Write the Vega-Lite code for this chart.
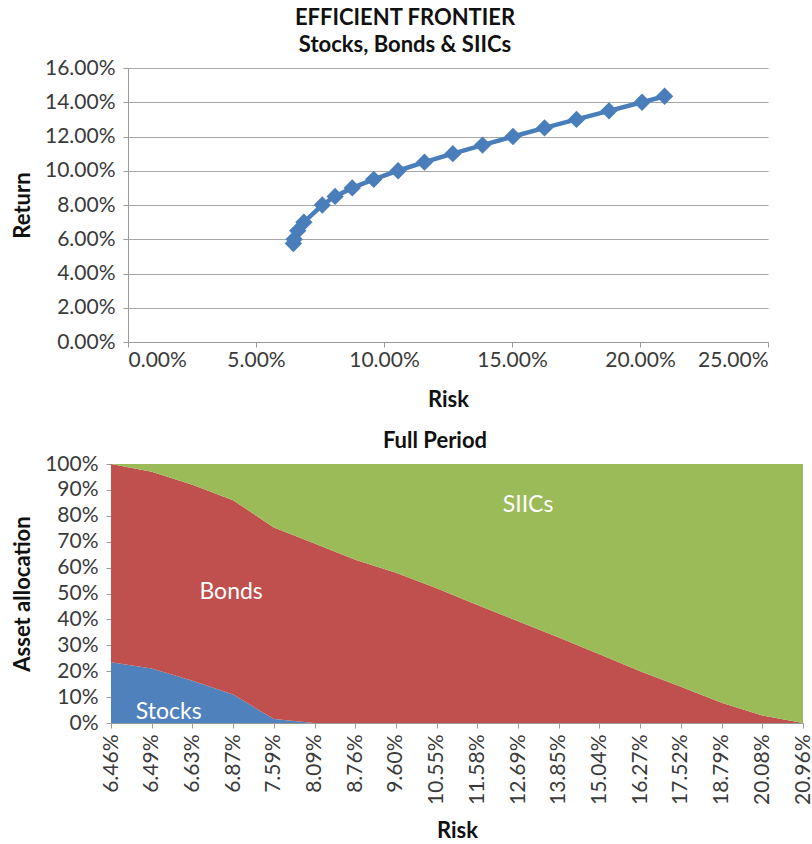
{
  "$schema": "https://vega.github.io/schema/vega-lite/v6.json",
  "background": "white",
  "padding": {"left": 11, "top": 7, "right": 0, "bottom": 0},
  "spacing": 20,
  "config": {
    "view": {"stroke": null},
    "font": "Lato",
    "axis": {
      "labelFont": "Lato",
      "labelFontSize": 21,
      "labelColor": "#3a3a3a",
      "labelOverlap": false,
      "titleFont": "Lato",
      "titleFontSize": 22,
      "titleFontWeight": "bold",
      "titleColor": "#111111",
      "domainColor": "#9a9a9a",
      "tickColor": "#9a9a9a",
      "gridColor": "#a8a8a8",
      "tickSize": 5
    },
    "title": {"font": "Lato", "fontSize": 22, "fontWeight": "bold", "color": "#111111"}
  },
  "datasets": {
    "frontier": [
      {"risk": 0.0646, "ret": 0.0575},
      {"risk": 0.0649, "ret": 0.0600},
      {"risk": 0.0663, "ret": 0.0650},
      {"risk": 0.0687, "ret": 0.0700},
      {"risk": 0.0759, "ret": 0.0800},
      {"risk": 0.0809, "ret": 0.0850},
      {"risk": 0.0876, "ret": 0.0900},
      {"risk": 0.0960, "ret": 0.0950},
      {"risk": 0.1055, "ret": 0.1000},
      {"risk": 0.1158, "ret": 0.1050},
      {"risk": 0.1269, "ret": 0.1100},
      {"risk": 0.1385, "ret": 0.1150},
      {"risk": 0.1504, "ret": 0.1200},
      {"risk": 0.1627, "ret": 0.1250},
      {"risk": 0.1752, "ret": 0.1300},
      {"risk": 0.1879, "ret": 0.1350},
      {"risk": 0.2008, "ret": 0.1400},
      {"risk": 0.2096, "ret": 0.1435}
    ],
    "alloc": [
      {"risk": "6.46%", "asset": "Stocks", "share": 0.235},
      {"risk": "6.46%", "asset": "Bonds", "share": 0.765},
      {"risk": "6.46%", "asset": "SIICs", "share": 0.0},
      {"risk": "6.49%", "asset": "Stocks", "share": 0.21},
      {"risk": "6.49%", "asset": "Bonds", "share": 0.76},
      {"risk": "6.49%", "asset": "SIICs", "share": 0.03},
      {"risk": "6.63%", "asset": "Stocks", "share": 0.163},
      {"risk": "6.63%", "asset": "Bonds", "share": 0.757},
      {"risk": "6.63%", "asset": "SIICs", "share": 0.08},
      {"risk": "6.87%", "asset": "Stocks", "share": 0.11},
      {"risk": "6.87%", "asset": "Bonds", "share": 0.75},
      {"risk": "6.87%", "asset": "SIICs", "share": 0.14},
      {"risk": "7.59%", "asset": "Stocks", "share": 0.015},
      {"risk": "7.59%", "asset": "Bonds", "share": 0.74},
      {"risk": "7.59%", "asset": "SIICs", "share": 0.245},
      {"risk": "8.09%", "asset": "Stocks", "share": 0.0},
      {"risk": "8.09%", "asset": "Bonds", "share": 0.693},
      {"risk": "8.09%", "asset": "SIICs", "share": 0.307},
      {"risk": "8.76%", "asset": "Stocks", "share": 0.0},
      {"risk": "8.76%", "asset": "Bonds", "share": 0.63},
      {"risk": "8.76%", "asset": "SIICs", "share": 0.37},
      {"risk": "9.60%", "asset": "Stocks", "share": 0.0},
      {"risk": "9.60%", "asset": "Bonds", "share": 0.58},
      {"risk": "9.60%", "asset": "SIICs", "share": 0.42},
      {"risk": "10.55%", "asset": "Stocks", "share": 0.0},
      {"risk": "10.55%", "asset": "Bonds", "share": 0.52},
      {"risk": "10.55%", "asset": "SIICs", "share": 0.48},
      {"risk": "11.58%", "asset": "Stocks", "share": 0.0},
      {"risk": "11.58%", "asset": "Bonds", "share": 0.456},
      {"risk": "11.58%", "asset": "SIICs", "share": 0.544},
      {"risk": "12.69%", "asset": "Stocks", "share": 0.0},
      {"risk": "12.69%", "asset": "Bonds", "share": 0.393},
      {"risk": "12.69%", "asset": "SIICs", "share": 0.607},
      {"risk": "13.85%", "asset": "Stocks", "share": 0.0},
      {"risk": "13.85%", "asset": "Bonds", "share": 0.33},
      {"risk": "13.85%", "asset": "SIICs", "share": 0.67},
      {"risk": "15.04%", "asset": "Stocks", "share": 0.0},
      {"risk": "15.04%", "asset": "Bonds", "share": 0.265},
      {"risk": "15.04%", "asset": "SIICs", "share": 0.735},
      {"risk": "16.27%", "asset": "Stocks", "share": 0.0},
      {"risk": "16.27%", "asset": "Bonds", "share": 0.20},
      {"risk": "16.27%", "asset": "SIICs", "share": 0.80},
      {"risk": "17.52%", "asset": "Stocks", "share": 0.0},
      {"risk": "17.52%", "asset": "Bonds", "share": 0.14},
      {"risk": "17.52%", "asset": "SIICs", "share": 0.86},
      {"risk": "18.79%", "asset": "Stocks", "share": 0.0},
      {"risk": "18.79%", "asset": "Bonds", "share": 0.078},
      {"risk": "18.79%", "asset": "SIICs", "share": 0.922},
      {"risk": "20.08%", "asset": "Stocks", "share": 0.0},
      {"risk": "20.08%", "asset": "Bonds", "share": 0.029},
      {"risk": "20.08%", "asset": "SIICs", "share": 0.971},
      {"risk": "20.96%", "asset": "Stocks", "share": 0.0},
      {"risk": "20.96%", "asset": "Bonds", "share": 0.0},
      {"risk": "20.96%", "asset": "SIICs", "share": 1.0}
    ],
    "labels": [
      {"risk": "6.49%", "asset": "Stocks", "share": 0.043},
      {"risk": "6.87%", "asset": "Bonds", "share": 0.504},
      {"risk": "12.69%", "asset": "SIICs", "share": 0.84}
    ]
  },
  "vconcat": [
    {
      "width": 640,
      "height": 274,
      "title": {"text": ["EFFICIENT FRONTIER", "Stocks, Bonds & SIICs"], "lineHeight": 27, "anchor": "middle", "frame": "group", "dx": -43, "offset": 0},
      "data": {"name": "frontier"},
      "encoding": {
        "x": {"field": "risk", "type": "quantitative", "title": "Risk",
              "scale": {"domain": [0, 0.25], "nice": false, "zero": true},
              "axis": {"format": ".2%", "values": [0, 0.05, 0.1, 0.15, 0.2, 0.25], "grid": false, "labelPadding": 2, "titlePadding": 19}},
        "y": {"field": "ret", "type": "quantitative", "title": "Return",
              "scale": {"domain": [0, 0.16], "nice": false},
              "axis": {"format": ".2%", "values": [0, 0.02, 0.04, 0.06, 0.08, 0.1, 0.12, 0.14, 0.16], "grid": true, "labelOverlap": false, "labelPadding": 8, "titlePadding": 10}}
      },
      "layer": [
        {"mark": {"type": "line", "color": "#4a7ebb", "strokeWidth": 4.5}},
        {"mark": {"type": "point", "shape": "diamond", "filled": true, "color": "#4a7ebb", "size": 300, "opacity": 1}}
      ]
    },
    {
      "width": 678,
      "height": 259,
      "title": {"text": "Full Period", "anchor": "middle", "frame": "group", "dx": -32, "offset": 0},
      "encoding": {
        "x": {"field": "risk", "type": "ordinal", "title": "Risk",
              "sort": ["6.46%","6.49%","6.63%","6.87%","7.59%","8.09%","8.76%","9.60%","10.55%","11.58%","12.69%","13.85%","15.04%","16.27%","17.52%","18.79%","20.08%","20.96%"],
              "scale": {"type": "point", "padding": 0, "range": [-17, 675]},
              "axis": {"labelAngle": -90, "labelPadding": 6, "titlePadding": 16, "grid": false}},
        "y": {"field": "share", "type": "quantitative", "title": "Asset allocation",
              "scale": {"domain": [0, 1], "nice": false},
              "axis": {"format": ".0%", "values": [0,0.1,0.2,0.3,0.4,0.5,0.6,0.7,0.8,0.9,1], "grid": false, "labelOverlap": false, "labelPadding": 8, "titlePadding": 10, "offset": 17}}
      },
      "layer": [
        {
          "data": {"name": "alloc"},
          "transform": [{"calculate": "indexof(['Stocks','Bonds','SIICs'], datum.asset)", "as": "stackRank"}],
          "mark": {"type": "area", "opacity": 1},
          "encoding": {
            "y": {"field": "share", "type": "quantitative", "stack": "zero", "title": "Asset allocation",
                  "scale": {"domain": [0, 1], "nice": false},
                  "axis": {"format": ".0%", "values": [0,0.1,0.2,0.3,0.4,0.5,0.6,0.7,0.8,0.9,1], "grid": false, "labelOverlap": false, "labelPadding": 8, "titlePadding": 10, "offset": 17}},
            "color": {"field": "asset", "type": "nominal", "legend": null,
                      "scale": {"domain": ["Stocks", "Bonds", "SIICs"], "range": ["#4f81bd", "#c0504d", "#9bbb59"]}},
            "order": {"field": "stackRank", "type": "quantitative"}
          }
        },
        {
          "data": {"name": "labels"},
          "transform": [{"filter": "datum.asset === 'Stocks'"}],
          "mark": {"type": "text", "color": "white", "fontSize": 23, "font": "Lato", "align": "center", "baseline": "middle", "dx": 17},
          "encoding": {"text": {"field": "asset"}}
        },
        {
          "data": {"name": "labels"},
          "transform": [{"filter": "datum.asset === 'Bonds'"}],
          "mark": {"type": "text", "color": "white", "fontSize": 23, "font": "Lato", "align": "center", "baseline": "middle", "dx": -2},
          "encoding": {"text": {"field": "asset"}}
        },
        {
          "data": {"name": "labels"},
          "transform": [{"filter": "datum.asset === 'SIICs'"}],
          "mark": {"type": "text", "color": "white", "fontSize": 23, "font": "Lato", "align": "center", "baseline": "middle", "dx": 10},
          "encoding": {"text": {"field": "asset"}}
        }
      ]
    }
  ]
}
